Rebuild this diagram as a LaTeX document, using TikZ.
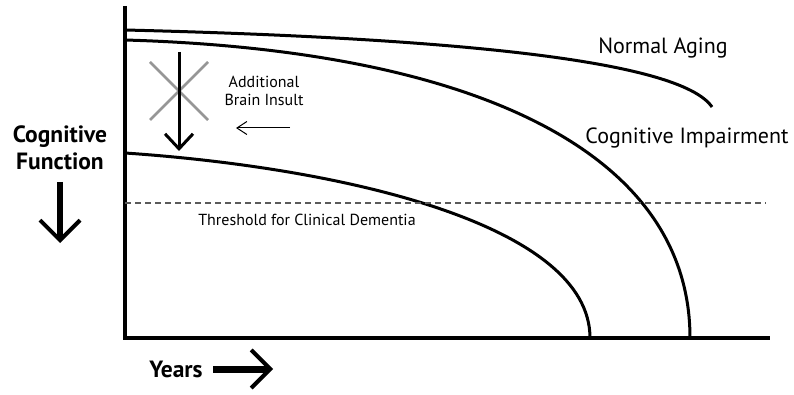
\documentclass[tikz,border=0pt]{standalone}
\usepackage{fontspec}
\setmainfont{PT Sans}
\usetikzlibrary{arrows.meta}
\definecolor{insultgray}{RGB}{150,150,150}
\definecolor{threshgray}{RGB}{90,90,90}
\tikzset{
  curve/.style={line width=3pt},
  axis/.style={line width=4pt},
  biglabel/.style={font=\fontsize{22}{26}\selectfont},
  smalllabel/.style={font=\fontsize{16}{18}\selectfont,align=center},
  boldlabel/.style={font=\fontsize{23.5}{27}\selectfont\bfseries,align=center}
}
\begin{document}
\begin{tikzpicture}[x=1pt,y=-1pt]
  \useasboundingbox (0,0) rectangle (794,395);

  \coordinate (ytop) at (125,6);
  \coordinate (xend) at (770,338);
  \draw[axis] (ytop) |- (xend);

  \coordinate (na-start) at (125,30);
  \coordinate (na-end) at (712,107);
  \draw[curve] (na-start) .. controls (450,38) and (680,60) .. (na-end);

  \coordinate (ci-start) at (125,40);
  \coordinate (ci-end) at (690,338);
  \draw[curve] (ci-start) .. controls (470,50) and (690,150) .. (ci-end);

  \coordinate (dem-start) at (125,153);
  \coordinate (dem-end) at (590,338);
  \draw[curve] (dem-start) .. controls (345,168) and (590,225) .. (dem-end);

  \coordinate (thr-l) at (125,203);
  \coordinate (thr-r) at (766,203);
  \draw[threshgray,line width=1.2pt,dash pattern=on 6pt off 4pt] (thr-l) -- (thr-r);

  \coordinate (x1) at (150,62);
  \coordinate (x2) at (208,120);
  \coordinate (x3) at (208,62);
  \coordinate (x4) at (150,120);
  \draw[insultgray,line width=2.5pt] (x1) -- (x2);
  \draw[insultgray,line width=2.5pt] (x3) -- (x4);

  \coordinate (drop-top) at (179,52);
  \coordinate (drop-bot) at (179,151);
  \draw[line width=3pt,-{Straight Barb[length=15pt,width=28pt]}] (drop-top) -- (drop-bot);

  \node[biglabel] (normal) at (663,48) {Normal Aging};
  \node[biglabel] (impair) at (687,138) {Cognitive Impairment};
  \node[smalllabel] (insult) at (264,91) {Additional\\Brain Insult};
  \node[smalllabel] (thresh) at (307,220) {Threshold for Clinical Dementia};

  \coordinate (ins-from) at (290,128);
  \coordinate (ins-to) at (236,128);
  \draw[line width=1pt,-{Straight Barb[length=10pt,width=13pt]}] (ins-from) -- (ins-to);

  \node[boldlabel] (cogfun) at (60,148) {Cognitive\\Function};
  \coordinate (cf-top) at (60,182);
  \coordinate (cf-bot) at (60,243);
  \draw[line width=6pt,-{Straight Barb[length=20pt,width=40pt,line width=4pt]}] (cf-top) -- (cf-bot);

  \node[boldlabel] (years) at (176,369) {Years};
  \coordinate (yr-l) at (213,369);
  \coordinate (yr-r) at (273,369);
  \draw[line width=7pt,-{Straight Barb[length=19pt,width=38pt,line width=4pt]}] (yr-l) -- (yr-r);
\end{tikzpicture}
\end{document}
